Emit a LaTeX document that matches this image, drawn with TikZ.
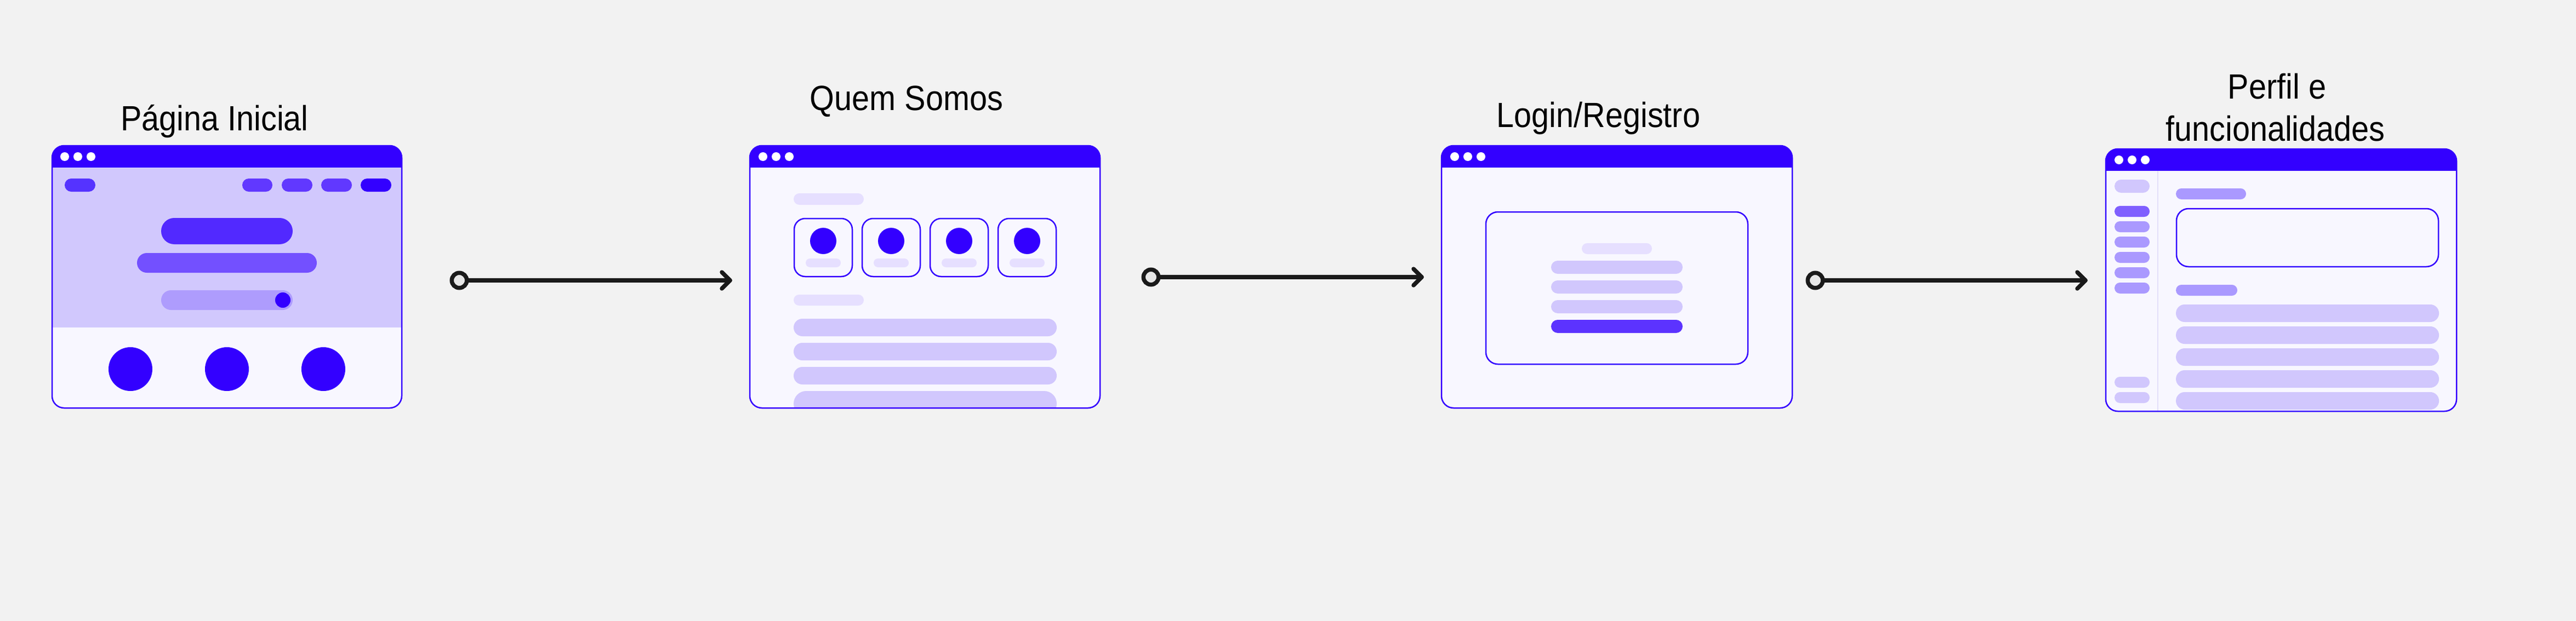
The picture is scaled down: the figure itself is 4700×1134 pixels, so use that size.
\documentclass[tikz,border=0pt]{standalone}
\usepackage{fontspec}
\setmainfont{Liberation Sans}[FakeStretch=0.9]
\definecolor{bg}{HTML}{F2F2F2}
\definecolor{wblue}{HTML}{3300FF}
\definecolor{winbody}{HTML}{F8F7FF}
\definecolor{hero}{HTML}{D1C8FD}
\definecolor{navA}{HTML}{5533FF}
\definecolor{navB}{HTML}{6138FF}
\definecolor{heroA}{HTML}{5229FF}
\definecolor{heroB}{HTML}{7350FF}
\definecolor{heroC}{HTML}{AE9CFD}
\definecolor{lightp}{HTML}{E6DFFF}
\definecolor{midp}{HTML}{D1C7FD}
\definecolor{medp}{HTML}{AA99FF}
\definecolor{actp}{HTML}{7F5FFF}
\definecolor{btnp}{HTML}{5C33FF}
\definecolor{divp}{HTML}{E3DFFA}
\definecolor{ink}{HTML}{1A1A1A}
\definecolor{dotfill}{HTML}{E6E6E6}
\newcommand{\pill}[5]{\pgfmathsetmacro{\pr}{0.499*abs(#4-#2)}\fill[#5, rounded corners=\pr pt] (#1,#2) rectangle (#3,#4);}
\begin{document}
\begin{tikzpicture}[x=1pt,y=-1pt,
  title/.style={inner sep=0pt, font=\fontsize{64}{77}\selectfont, text=black},
  winframe/.style={draw=wblue, line width=2.5pt, rounded corners=22pt, inner sep=0pt, outer sep=0pt, rectangle},
  card/.style={draw=wblue, line width=2.5pt, fill=winbody},
  startdot/.style={circle, draw=ink, fill=dotfill, line width=7.5pt, minimum size=27.5pt, inner sep=0pt},
  conn/.style={draw=ink, line width=7.5pt, line cap=round, line join=round}]
\useasboundingbox (0,0) rectangle (4700,1134);
\fill[bg] (0,0) rectangle (4700,1134);

% ---------- Window 1: Pagina Inicial ----------
\fill[winbody, rounded corners=22pt] (95,266) rectangle (733,745);
\begin{scope}
\clip[rounded corners=22pt] (95,266) rectangle (733,745);
\fill[wblue] (95,266) rectangle (733,306);
\fill[hero] (95,306) rectangle (733,598);
\end{scope}
\foreach \dx in {118,142,166} \fill[white] (\dx,286) circle[radius=8pt];
\pill{118}{326}{174}{350}{navA}
\pill{442}{326}{497}{350}{navB}
\pill{514}{326}{570}{350}{navB}
\pill{586}{326}{642}{350}{navB}
\pill{658}{326}{714}{350}{wblue}
\pill{294}{398}{534}{446}{heroA}
\pill{250}{462}{578}{498}{heroB}
\pill{294}{530}{534}{566}{heroC}
\fill[wblue] (516,548) circle[radius=14pt];
\foreach \cx in {238,414,590} \fill[wblue] (\cx,674) circle[radius=40pt];
\node[winframe, minimum width=638pt, minimum height=479pt] (w1) at (414,505.5) {};

% ---------- Window 2: Quem Somos ----------
\fill[winbody, rounded corners=22pt] (1368,266) rectangle (2007,745);
\begin{scope}
\clip[rounded corners=22pt] (1368,266) rectangle (2007,745);
\fill[wblue] (1368,266) rectangle (2007,306);
\pill{1448}{353}{1576}{374}{lightp}
\foreach \cx in {1502,1626,1750,1874} {
  \draw[card, rounded corners=20pt] (\cx-53,399) rectangle (\cx+53,505);
  \fill[wblue] (\cx,440) circle[radius=24pt];
  \pill{\cx-32}{472}{\cx+32}{488}{lightp}
}
\pill{1448}{538}{1576}{558}{lightp}
\pill{1448}{582}{1928}{614}{midp}
\pill{1448}{626}{1928}{658}{midp}
\pill{1448}{670}{1928}{702}{midp}
\pill{1448}{714}{1928}{760}{midp}
\end{scope}
\foreach \dx in {1392,1416,1440} \fill[white] (\dx,286) circle[radius=8pt];
\node[winframe, minimum width=639pt, minimum height=479pt] (w2) at (1687.5,505.5) {};

% ---------- Window 3: Login/Registro ----------
\fill[winbody, rounded corners=22pt] (2630,266) rectangle (3270,745);
\begin{scope}
\clip[rounded corners=22pt] (2630,266) rectangle (3270,745);
\fill[wblue] (2630,266) rectangle (3270,306);
\end{scope}
\foreach \dx in {2654,2678,2702} \fill[white] (\dx,286) circle[radius=8pt];
\draw[card, rounded corners=22pt] (2711,387) rectangle (3189,665);
\pill{2886}{444}{3014}{464}{lightp}
\pill{2830}{476}{3070}{500}{midp}
\pill{2830}{512}{3070}{536}{midp}
\pill{2830}{548}{3070}{572}{midp}
\pill{2830}{584}{3070}{608}{btnp}
\node[winframe, minimum width=640pt, minimum height=479pt] (w3) at (2950,505.5) {};

% ---------- Window 4: Perfil e funcionalidades ----------
\fill[winbody, rounded corners=22pt] (3842,272) rectangle (4482,751);
\begin{scope}
\clip[rounded corners=22pt] (3842,272) rectangle (4482,751);
\fill[wblue] (3842,272) rectangle (4482,312);
\draw[divp, line width=2.5pt] (3937,312) -- (3937,751);
\end{scope}
\foreach \dx in {3866,3890,3914} \fill[white] (\dx,292) circle[radius=8pt];
\pill{3858}{328}{3922}{352}{midp}
\pill{3858}{376}{3922}{396}{actp}
\foreach \sy in {404,432,460,488,516} {\pill{3858}{\sy}{3922}{\sy+20}{medp}}
\pill{3858}{688}{3922}{708}{midp}
\pill{3858}{716}{3922}{736}{midp}
\pill{3970}{344}{4098}{364}{medp}
\draw[card, rounded corners=22pt] (3971,381) rectangle (4449,487);
\pill{3970}{520}{4082}{540}{medp}
\foreach \sy in {556,596,636,676,716} {\pill{3970}{\sy}{4450}{\sy+32}{midp}}
\node[winframe, minimum width=640pt, minimum height=479pt] (w4) at (4162,511.5) {};

% ---------- Titles ----------
\node[title, anchor=base] (t1) at (391.5,239) {Página Inicial};
\node[title, anchor=base] (t2) at (1654,202) {Quem Somos};
\node[title, anchor=base] (t3) at (2916.5,233) {Login/Registro};
\node[title, anchor=base] (t4a) at (4154.5,181) {Perfil e};
\node[title, anchor=base] (t4b) at (4151.5,258) {funcionalidades};

% ---------- Connectors ----------
\node[startdot] (a1s) at (838,512) {};
\coordinate (a1e) at (1332,512);
\node[startdot] (a2s) at (2100,506) {};
\coordinate (a2e) at (2594,506);
\node[startdot] (a3s) at (3312,512) {};
\coordinate (a3e) at (3805,512);
\foreach \s/\e in {a1s/a1e,a2s/a2e,a3s/a3e} {
  \draw[conn] (\s) -- (\e);
  \draw[conn] ([shift={(-15,-15)}]\e) -- (\e) -- ([shift={(-15,15)}]\e);
}
\end{tikzpicture}
\end{document}
